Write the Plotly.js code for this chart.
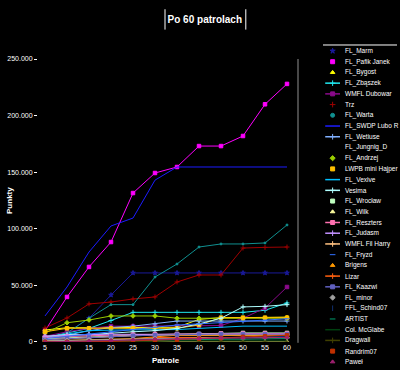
<!DOCTYPE html>
<html><head><meta charset="utf-8">
<script src="https://cdn.plot.ly/plotly-3.0.1.min.js"></script>
<style>html,body{margin:0;padding:0;background:#000;}#chart{width:400px;height:370px;}</style>
</head><body><div id="chart"></div>
<script>
// ---------- DATA ----------
const patrols = [5, 10, 15, 20, 25, 30, 35, 40, 45, 50, 55, 60];
const xTickLabels = ["5","10","15","20","25","30","35","40","45","50","55","60"];
const yTickValues = [0, 50000, 100000, 150000, 200000, 250000];
const yTickLabels = ["0", "50.000", "100.000", "150.000", "200.000", "250.000"];

const seriesNames = ["FL_Marm","FL_Pafik Janek","FL_Bygost","FL_Zbąszek","WMFL Dubowar","Trz","FL_Warta",
  "FL_SWDP Lubo R","FL_Wetiuse","FL_Jungnig_D","FL_Andrzej","LWPB mini Hajper","FL_Vexive","Vesima",
  "FL_Wrocław","FL_Wilk","FL_Reszters","FL_Judasm","WMFL Fil Harry","FL_Fryzd","Brigens","Lizar",
  "FL_Kaazwi","FL_minor","FFL_Schind07","ARTIST","Col. McGlabe","Dragwall","Randrim07","Paweł"];

const v01 = [2000, 8000, 21000, 41500, 61000, 61000, 61000, 61000, 61000, 61000, 61000, 61000];
const v02 = [10000, 39800, 66300, 88300, 131600, 149300, 154600, 173100, 173100, 182000, 210000, 228000];
const v03 = [10600, 12600, 12600, 12600, 12600, 12600, 13000, 20000, 21500, 21500, 21500, 22000];
const v04 = [4000, 8000, 12000, 19000, 26200, 26200, 26200, 26200, 26200, 26200, 28000, 34500];
const v05 = [5000, 9000, 12000, 14000, 14000, 14000, 14000, 14000, 14500, 21000, 30000, 48600];
const v06 = [12400, 21200, 33600, 35300, 38000, 39800, 53000, 59200, 59200, 83000, 83600, 83900];
const v07 = [2000, 8000, 21000, 33000, 33000, 57400, 68900, 83900, 86600, 86600, 87500, 103400];
const v08 = [23000, 48600, 79500, 102500, 109500, 143000, 154600, 154600, 154600, 154600, 154600, 154600];
const v09 = [3000, 6000, 10000, 12800, 14000, 16000, 18500, 18500, 18500, 18500, 18500, 18500];
const v10 = [1500, 4500, 5000, 5500, 6000, 6000, 6000, 6500, 7000, 7000, 7500, 7500];
const v11 = [8000, 17000, 19400, 23000, 23000, 23000, 21000, 21000, 21000, 21000, 21000, 21000];
const v12 = [9000, 12100, 12100, 12100, 12100, 12100, 12100, 15000, 21500, 21500, 21500, 21500];
const v13 = [4000, 7000, 10000, 10500, 10600, 10600, 11000, 12000, 13000, 14000, 14000, 14000];
const v14 = [5000, 6500, 6500, 8000, 9000, 10000, 12000, 16000, 21000, 31000, 31500, 33000];
const v15 = [3000, 3500, 4000, 5000, 6000, 6500, 7000, 7000, 7500, 8000, 8000, 8000];
const v16 = [500, 500, 500, 500, 500, 500, 500, 500, 500, 500, 500, 500];
const v17 = [4000, 5000, 5500, 6000, 6500, 7000, 7000, 7000, 7500, 7500, 7500, 7500];
const v18 = [5000, 6000, 6500, 6800, 6800, 6800, 6800, 6800, 6800, 6800, 6800, 6800];
const v19 = [2000, 3000, 4000, 5000, 5500, 6000, 6000, 6000, 6000, 6000, 6000, 6000];
const v20 = [3000, 5000, 7000, 9000, 11000, 13000, 15000, 16000, 17000, 18000, 19000, 20500];
const v21 = [1000, 1500, 2000, 2500, 3000, 4500, 6000, 6000, 6000, 6000, 6000, 6000];
const v22 = [500, 1000, 1500, 2000, 2500, 4000, 4000, 4000, 4000, 4000, 4000, 4000];
const v23 = [2000, 3000, 4000, 5000, 5500, 6000, 6500, 7000, 7000, 7000, 7000, 7000];
const v24 = [1000, 1500, 2000, 2000, 2500, 3000, 3000, 3500, 3500, 4000, 4000, 4000];
const v25 = [0, 0, 500, 1000, 1500, 2000, 2500, 3000, 3500, 4500, 4700, 5000];
const v26 = [0, 500, 1000, 1000, 1500, 1500, 2000, 2000, 2500, 2500, 3000, 3000];
const v27 = [0, 0, 0, 500, 500, 500, 1000, 1000, 1000, 1000, 1000, 1000];
const v28 = [0, 0, 0, 0, 0, 0, 0, 0, 0, 0, 0, 0];
const v29 = [0, 0, 0, 500, 1000, 1500, 2000, 3000, 3500, 4500, 5000, 5900];
const v30 = [0, 500, 1000, 1500, 2000, 2500, 3000, 3000, 3500, 3500, 4000, 4000];

const seriesValues = [v01,v02,v03,v04,v05,v06,v07,v08,v09,v10,v11,v12,v13,v14,v15,
                      v16,v17,v18,v19,v20,v21,v22,v23,v24,v25,v26,v27,v28,v29,v30];

// ---------- STYLES ----------
const styles = [
  {c:'#1a1a9a', s:'star', ll:false, lm:true},
  {c:'#ff00ff', s:'square', ll:false, lm:true},
  {c:'#ffff00', s:'triangle-up', ll:false, lm:true},
  {c:'#20e8f0', s:'cross-thin', ll:true, lm:true},
  {c:'#8a0a8a', s:'square', ll:true, lm:true},
  {c:'#a00000', s:'cross-thin', ll:false, lm:true},
  {c:'#109090', s:'circle', ll:false, lm:true, ms:2},
  {c:'#1c1cff', s:'circle', ll:true, lm:false, ms:0},
  {c:'#80b0ff', s:'cross-thin', ll:true, lm:true},
  {c:'#303030', s:'circle', ll:false, lm:false, ms:0},
  {c:'#99cc00', s:'diamond', ll:false, lm:true},
  {c:'#ffc000', s:'square', ll:false, lm:true},
  {c:'#00c0ff', s:'circle', ll:true, lm:false, ms:0},
  {c:'#b0ffff', s:'cross-thin', ll:true, lm:true},
  {c:'#c0ffc0', s:'square', ll:false, lm:true},
  {c:'#ffffa0', s:'triangle-up', ll:false, lm:true},
  {c:'#ff70b0', s:'square', ll:true, lm:true},
  {c:'#c090ff', s:'cross-thin', ll:true, lm:true},
  {c:'#ffc080', s:'cross-thin', ll:true, lm:true},
  {c:'#3070ff', s:'line-ew', ll:false, lm:true},
  {c:'#ff9900', s:'triangle-up', ll:false, lm:true},
  {c:'#ff6010', s:'cross-thin', ll:true, lm:true},
  {c:'#6060c0', s:'square', ll:true, lm:true},
  {c:'#a0a0a0', s:'diamond', ll:false, lm:true},
  {c:'#103070', s:'line-ns', ll:false, lm:true},
  {c:'#00a070', s:'line-ew', ll:false, lm:true},
  {c:'#004010', s:'circle', ll:true, lm:false, ms:0},
  {c:'#404000', s:'cross-thin', ll:true, lm:true},
  {c:'#c03000', s:'square', ll:false, lm:true},
  {c:'#a02070', s:'triangle-up', ll:false, lm:true}
];

const FONT = 'Liberation Sans, Arial, sans-serif';
const traces = [];

// main series
seriesValues.forEach((vals, i) => {
  const st = styles[i];
  const ms = st.ms === undefined ? 3.5 : st.ms;
  traces.push({
    type: 'scatter', mode: ms > 0 ? 'lines+markers' : 'lines', name: seriesNames[i],
    x: patrols, y: vals, xaxis: 'x', yaxis: 'y',
    line: {color: st.c, width: 1},
    marker: {symbol: st.s, size: ms, color: st.c, line: {color: st.c, width: 1}},
    showlegend: false, hoverinfo: 'skip'
  });
});

// custom compact legend (one row per series, built from the names list)
seriesNames.forEach((nm, i) => {
  const st = styles[i];
  if (st.ll) traces.push({type:'scatter', mode:'lines', x:[0.03, 0.23], y:[i, i], xaxis:'x2', yaxis:'y2',
    line:{color:st.c, width:1.5}, showlegend:false, hoverinfo:'skip'});
  if (st.lm) traces.push({type:'scatter', mode:'markers', x:[0.13], y:[i], xaxis:'x2', yaxis:'y2',
    marker:{symbol:st.s, size:4, color:st.c, line:{color:st.c, width:1}}, showlegend:false, hoverinfo:'skip'});
});

const annotations = seriesNames.map((nm, i) => ({
  text: nm, x: 0.27, y: i, xref: 'x2', yref: 'y2', xanchor: 'left', yanchor: 'middle',
  showarrow: false, font: {family: FONT, size: 6.5, color: '#ffffff'}
}));
annotations.push({text:'<b>Punkty</b>', x:0.022, y:0.459, xref:'paper', yref:'paper', textangle:-90,
  showarrow:false, font:{family:FONT, size:8, color:'#ffffff'}, xanchor:'center', yanchor:'middle'});
annotations.push({text:'<b>Patrole</b>', x:0.415, y:0.025, xref:'paper', yref:'paper',
  showarrow:false, font:{family:FONT, size:8, color:'#ffffff'}, xanchor:'center', yanchor:'middle'});

const layout = {
  width: 400, height: 370,
  paper_bgcolor: '#000000', plot_bgcolor: '#000000',
  margin: {l: 0, r: 0, t: 0, b: 0},
  showlegend: false,
  title: {text: '<b>Po 60 patrolach</b>', x: 0.512, xanchor: 'center', y: 0.946, yanchor: 'middle',
          yref: 'container', font: {family: FONT, size: 10, color: '#ffffff'}},
  font: {family: FONT, color: '#ffffff'},
  xaxis: {domain: [0.095, 0.745], range: [3.41, 62.5], tickvals: patrols, ticktext: xTickLabels,
          showgrid: false, zeroline: false, showline: false, ticks: '',
          tickfont: {family: FONT, size: 7, color: '#ffffff'}, anchor: 'y'},
  yaxis: {domain: [0.0757, 0.8405], range: [0, 250000], tickvals: yTickValues, ticktext: yTickLabels,
          showgrid: false, zeroline: false, showline: false, ticks: 'outside', ticklen: 3,
          tickcolor: '#ffffff', tickwidth: 1,
          tickfont: {family: FONT, size: 7, color: '#ffffff'}, anchor: 'x'},
  xaxis2: {domain: [0.8075, 0.9925], range: [0, 1], visible: false, anchor: 'y2', fixedrange: true},
  yaxis2: {domain: [0, 1], range: [29.76, -4.757], visible: false, anchor: 'x2', fixedrange: true},
  annotations: annotations,
  shapes: [
    {type:'line', xref:'paper', yref:'paper', x0:0.745, x1:0.745, y0:0.0735, y1:0.8405, line:{color:'#909090', width:1}},
    {type:'line', xref:'paper', yref:'paper', x0:0.8075, x1:0.9925, y0:0.8784, y1:0.8784, line:{color:'#ffffff', width:1}},
    {type:'line', xref:'paper', yref:'paper', x0:0.4125, x1:0.4125, y0:0.92, y1:0.975, line:{color:'#ffffff', width:1}},
    {type:'line', xref:'paper', yref:'paper', x0:0.6145, x1:0.6145, y0:0.92, y1:0.975, line:{color:'#ffffff', width:1}}
  ]
};

Plotly.newPlot('chart', traces, layout, {displayModeBar: false, staticPlot: true});
</script></body></html>
